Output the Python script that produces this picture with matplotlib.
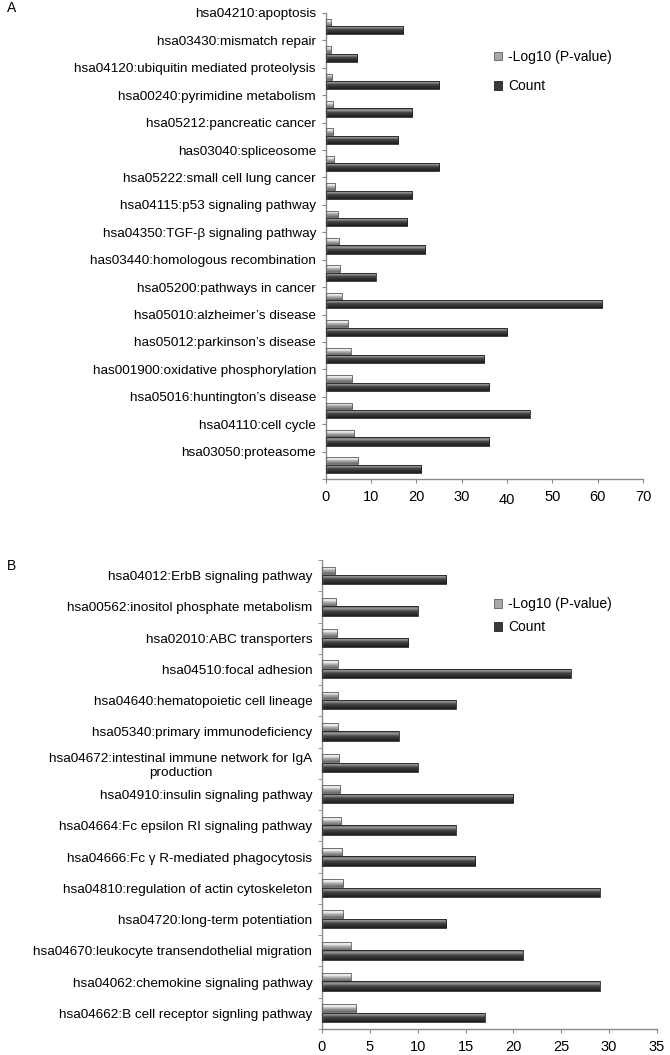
import numpy as np
import matplotlib
matplotlib.use('Agg')
import matplotlib.pyplot as plt
from matplotlib.colors import LinearSegmentedColormap
from matplotlib.patches import Patch
from matplotlib.transforms import ScaledTranslation

plt.rcParams['font.family'] = ['Liberation Sans', 'DejaVu Sans']

# panel A, top to bottom
a_terms = ['hsa04210:apoptosis', 'hsa03430:mismatch repair',
           'hsa04120:ubiquitin mediated proteolysis', 'hsa00240:pyrimidine metabolism',
           'hsa05212:pancreatic cancer', 'has03040:spliceosome',
           'hsa05222:small cell lung cancer', 'hsa04115:p53 signaling pathway',
           'hsa04350:TGF-β signaling pathway', 'has03440:homologous recombination',
           'hsa05200:pathways in cancer', 'hsa05010:alzheimer\u2019s disease',
           'has05012:parkinson\u2019s disease', 'has001900:oxidative phosphorylation',
           'hsa05016:huntington\u2019s disease', 'hsa04110:cell cycle',
           'hsa03050:proteasome']
a_logp = [1.2, 1.2, 1.5, 1.6, 1.7, 1.9, 2.1, 2.7, 2.9, 3.1, 3.5, 5.0, 5.5, 5.8, 5.8, 6.2, 7.1]
a_count = [17, 7, 25, 19, 16, 25, 19, 18, 22, 11, 61, 40, 35, 36, 45, 36, 21]

# panel B, top to bottom
b_terms = ['hsa04012:ErbB signaling pathway', 'hsa00562:inositol phosphate metabolism',
           'hsa02010:ABC transporters', 'hsa04510:focal adhesion',
           'hsa04640:hematopoietic cell lineage', 'hsa05340:primary immunodeficiency',
           'hsa04672:intestinal immune network for IgA\nproduction',
           'hsa04910:insulin signaling pathway', 'hsa04664:Fc epsilon RI signaling pathway',
           'hsa04666:Fc γ R-mediated phagocytosis', 'hsa04810:regulation of actin cytoskeleton',
           'hsa04720:long-term potentiation', 'hsa04670:leukocyte transendothelial migration',
           'hsa04062:chemokine signaling pathway', 'hsa04662:B cell receptor signling pathway']
b_logp = [1.4, 1.5, 1.6, 1.65, 1.65, 1.65, 1.8, 1.9, 2.0, 2.1, 2.2, 2.2, 3.0, 3.0, 3.6]
b_count = [13, 10, 9, 26, 14, 8, 10, 20, 14, 16, 29, 13, 21, 29, 17]

series = ['-Log10 (P-value)', 'Count']
light_cols = ['#d0d0d0', '#fafafa', '#b4b4b4', '#8c8c8c', '#666666']
dark_cols = ['#555555', '#9c9c9c', '#464646', '#303030', '#1e1e1e']

W, H = 670, 1055
fig = plt.figure(figsize=(6.7, 10.55), dpi=100)


def shade(ax, bars, colors):
    cmap = LinearSegmentedColormap.from_list('g', colors)
    grad = np.linspace(0, 1, 64).reshape(-1, 1)
    for b in bars:
        x, y, w, h = b.get_x(), b.get_y(), b.get_width(), b.get_height()
        im = ax.imshow(grad, cmap=cmap, aspect='auto', origin='upper', zorder=2,
                       extent=(x, x + w, y, y + h), interpolation='bilinear')
        im.set_clip_path(b)


def panel(box, terms, logp, count, xmax, step, labels_on_ticks, leg_y, leg_space):
    l, t, r, b = box
    ax = fig.add_axes([l / W, 1 - b / H, (r - l) / W, (b - t) / H])
    n = len(terms)
    pos = n - 1 - np.arange(n)
    lb = ax.barh(pos + 0.665, logp, height=0.25, facecolor='none', edgecolor='#5e5e5e', lw=0.6, zorder=3)
    db = ax.barh(pos + 0.37, count, height=0.3, facecolor='none', edgecolor='#222222', lw=0.6, zorder=3)
    shade(ax, lb, light_cols)
    shade(ax, db, dark_cols)
    ax.set_xlim(0, xmax)
    ax.set_ylim(0, n)
    ax.set_xticks(np.arange(0, xmax + 1, step))
    for s in ['top', 'right']:
        ax.spines[s].set_visible(False)
    for s in ['left', 'bottom']:
        ax.spines[s].set_color('#8a8a8a')
        ax.spines[s].set_linewidth(1.0)
    ax.tick_params(axis='x', length=3, color='#8a8a8a', labelsize=10.5, pad=5, direction='out')
    ax.set_yticks(np.arange(0, n + 1), minor=True)
    ax.tick_params(axis='y', which='minor', length=3, color='#8a8a8a', direction='out')
    if labels_on_ticks:
        ax.set_yticks(pos + 1)
        ax.tick_params(axis='y', which='major', length=3, color='#8a8a8a', pad=4, labelsize=9.7)
    else:
        ax.set_yticks(pos + 0.5)
        ax.tick_params(axis='y', which='major', length=0, pad=7, labelsize=9.7)
    ax.set_yticklabels(terms, multialignment='center')
    handles = [Patch(facecolor='#a8a8a8', edgecolor='#5e5e5e', lw=0.6),
               Patch(facecolor='#3a3a3a', edgecolor='#222222', lw=0.6)]
    ax.legend(handles, series, loc='center left', bbox_to_anchor=(494 / W, 1 - leg_y / H),
              bbox_transform=fig.transFigure, frameon=False, fontsize=10, borderpad=0,
              borderaxespad=0, handlelength=0.6, handleheight=0.6, handletextpad=0.4,
              labelspacing=leg_space)
    return ax


axA = panel((325.7, 13, 643, 479), a_terms, a_logp, a_count, 70, 10, True, 71.5, 1.1)
axB = panel((322, 560, 657, 1029), b_terms, b_logp, b_count, 35, 5, False, 615.5, 0.65)

# the "40" label sits a bit lower in the original
lbl = axA.get_xticklabels()[4]
lbl.set_transform(lbl.get_transform() + ScaledTranslation(0, -3 / 100, fig.dpi_scale_trans))

fig.text(7 / W, 1 - 8 / H, 'A', fontsize=10, va='center')
fig.text(7 / W, 1 - 566 / H, 'B', fontsize=10, va='center')

fig.savefig('out.png', dpi=100)
